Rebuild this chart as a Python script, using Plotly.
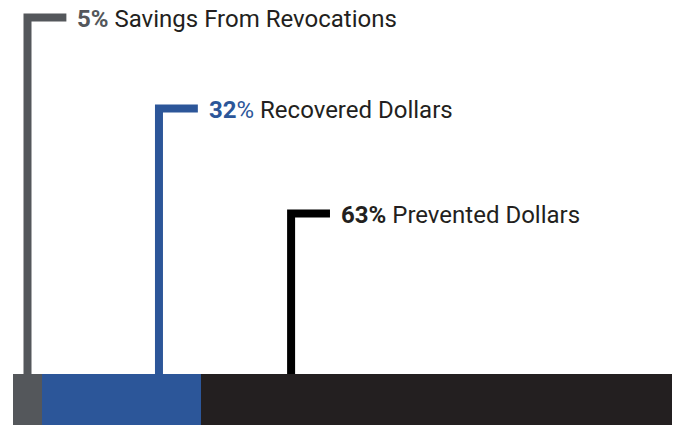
import plotly.graph_objects as go

# Data
categories = ["Savings From Revocations", "Recovered Dollars", "Prevented Dollars"]
label_pct = ["5", "32", "63"]
bar_share = [4.4, 24.1, 71.5]          # widths of the bar segments as drawn
connector_x = [2.2, 22.15, 42.2]       # where each connector leaves the bar
connector_top = [407.5, 316.5, 211.5]  # height of each connector's elbow
colors = ["#54575b", "#2c5699", "#231f20"]
line_colors = ["#54575b", "#2c5699", "#000000"]
text_color = "#231f20"

BAR_H = 51
ARM = 5.9      # horizontal arm length (x units)
GAP = 1.35     # gap between arm end and label (x units)

fig = go.Figure()

for cat, v, c in zip(categories, bar_share, colors):
    fig.add_trace(go.Bar(
        x=[v], y=[BAR_H / 2], orientation="h", width=BAR_H,
        marker=dict(color=c, line=dict(width=0)), name=cat,
        hoverinfo="skip"))

for cat, cx, top, c, lc, pct in zip(categories, connector_x, connector_top, colors, line_colors, label_pct):
    fig.add_trace(go.Scatter(
        x=[cx, cx, cx + ARM], y=[BAR_H, top, top], mode="lines",
        line=dict(color=lc, width=8), hoverinfo="skip", showlegend=False))
    if pct == "32":
        head = f"<b>{pct}</b>%"
    else:
        head = f"<b>{pct}%</b>"
    fig.add_annotation(
        x=cx + ARM + GAP, y=top - 1, xref="x", yref="y",
        text=f"<span style='color:{c}'>{head}</span> {cat}",
        showarrow=False, xanchor="left", yanchor="middle",
        font=dict(family="Roboto", size=24, color=text_color))

fig.update_layout(
    width=673, height=425, margin=dict(l=0, r=0, t=0, b=0),
    barmode="stack", showlegend=False,
    plot_bgcolor="white", paper_bgcolor="white",
    xaxis=dict(range=[-13 / 6.59, 660 / 6.59], visible=False, fixedrange=True),
    yaxis=dict(range=[0, 425], visible=False, fixedrange=True),
)

fig.write_html("out.html")
